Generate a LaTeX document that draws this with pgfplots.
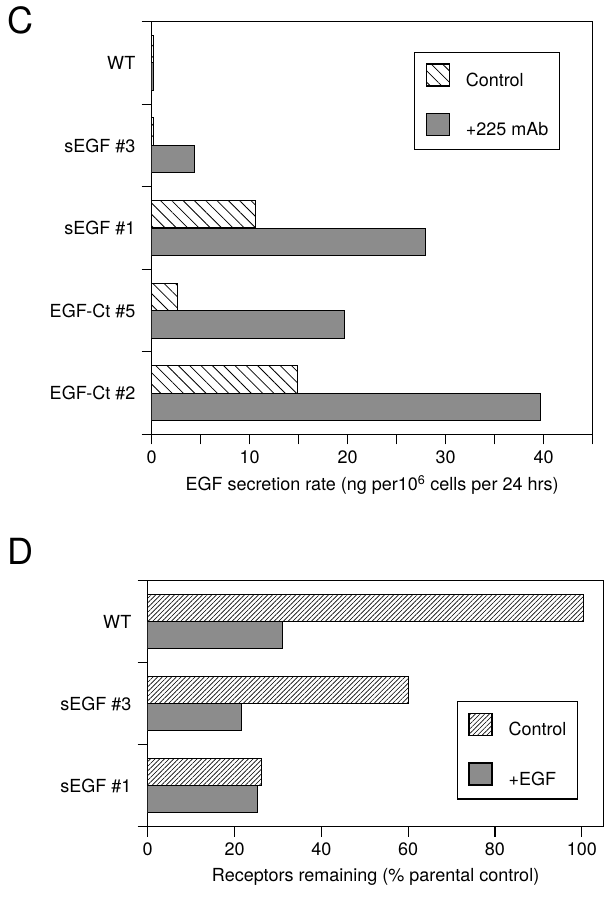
\documentclass[border=0pt]{standalone}
\usepackage{fontspec}
\setmainfont{TeX Gyre Heros}
\usepackage{pgfplots}
\usepackage{pgfplotstable}
\pgfplotsset{compat=1.18}
\usetikzlibrary{patterns.meta}

\pgfplotstableread{
idx ctrl mab
0 0.2 0.2
1 0.2 4.4
2 10.6 28.0
3 2.6 19.7
4 14.9 39.7
}\tableC
\pgfplotstableread{
idx ctrl egf
0 100.4 31.0
1 60.0 21.6
2 26.1 25.4
}\tableD

\pgfplotsset{
  myaxis/.style={
    scale only axis, xbar, y dir=reverse,
    bar width=0.333,
    axis line style={line width=1.2pt},
    every tick/.style={line width=1.2pt, black},
    tick align=outside,
    major tick length=10pt, minor tick length=10pt,
    xtick pos=bottom, ytick pos=left,
    /pgf/number format/assume math mode=true,
    legend cell align=left,
    legend image code/.code={\draw[##1, line width=1.2pt] (0pt,-5pt) rectangle (23pt,17pt);},
    legend style={draw=black, line width=1.2pt, inner xsep=11pt, inner ysep=11pt,
      row sep=24pt, column sep=16pt, nodes={inner sep=0pt}},
  }
}

\begin{document}
\fontsize{18pt}{21.6pt}\selectfont
\begin{tikzpicture}
\useasboundingbox (0pt,0pt) rectangle (609pt,-900pt);

\node[anchor=north west, inner sep=0pt, font=\fontsize{36pt}{40pt}\selectfont] at (7pt,-6pt) {C};
\node[anchor=north west, inner sep=0pt, font=\fontsize{36pt}{40pt}\selectfont] at (7pt,-538pt) {D};

\begin{axis}[myaxis,
  at={(151.7pt,-434.3pt)}, anchor=south west,
  width=440.8pt, height=412.6pt,
  xmin=0, xmax=45, ymin=-0.5, ymax=4.5,
  xtick={0,10,20,30,40}, minor xtick={5,15,25,35,45},
  ytick={-0.5,0.5,1.5,2.5,3.5,4.5},
  yticklabels={WT,sEGF \#3,sEGF \#1,EGF-Ct \#5,EGF-Ct \#2,{}},
  yticklabel style={yshift=-41.25pt},
  xlabel={EGF secretion rate (ng per10\textsuperscript{6} cells per 24 hrs)},
  legend style={at={(0.595,0.927)}, anchor=north west},
]
\addplot[draw=black, line width=1pt, bar shift=-0.1667,
  pattern={Lines[angle=-45,distance=8pt,line width=0.8pt]}]
  table[x=ctrl,y=idx]{\tableC};
\addlegendentry{Control}
\addplot[draw=black, line width=1pt, bar shift=0.1667, fill=black!45]
  table[x=mab,y=idx]{\tableC};
\addlegendentry{+225 mAb}
\end{axis}

\begin{axis}[myaxis,
  at={(147.7pt,-826.5pt)}, anchor=south west,
  width=455.8pt, height=246pt,
  xmin=0, xmax=105, ymin=-0.5, ymax=2.5,
  xtick={0,20,40,60,80,100},
  ytick={-0.5,0.5,1.5,2.5},
  yticklabels={WT,sEGF \#3,sEGF \#1,{}},
  yticklabel style={yshift=-41pt},
  xlabel={Receptors remaining (\% parental control)},
  legend style={at={(0.678,0.51)}, anchor=north west},
]
\addplot[draw=black, line width=1pt, bar shift=-0.1667,
  pattern={Lines[angle=45,distance=3.3pt,line width=0.6pt]}]
  table[x=ctrl,y=idx]{\tableD};
\addlegendentry{Control}
\addplot[draw=black, line width=1pt, bar shift=0.1667, fill=black!45]
  table[x=egf,y=idx]{\tableD};
\addlegendentry{+EGF}
\end{axis}
\end{tikzpicture}
\end{document}
